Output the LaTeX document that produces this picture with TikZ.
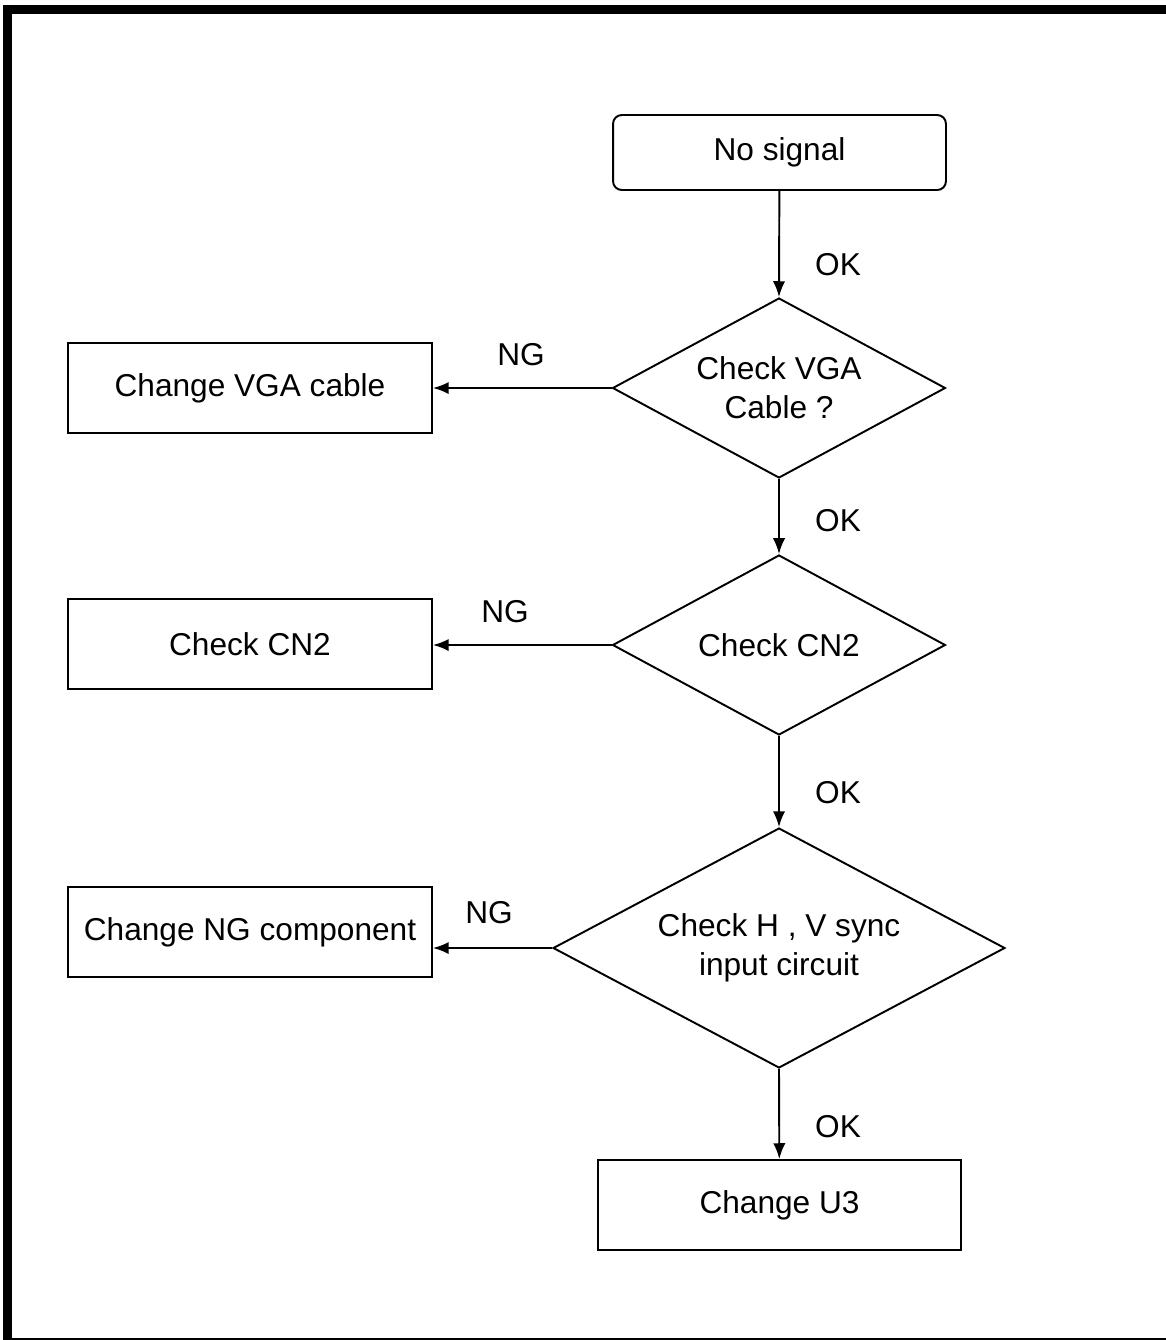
\documentclass[tikz,border=0pt]{standalone}
\usepackage{fontspec}
\setmainfont{Liberation Sans}
\usetikzlibrary{shapes.geometric,arrows.meta}

\begin{document}
\begin{tikzpicture}[x=0.02cm, y=-0.02cm,
  every node/.style={font=\fontsize{18}{22}\selectfont, align=center},
  stepbox/.style={draw, line width=1.1pt, minimum width=7.28cm, minimum height=1.8cm, inner sep=0pt},
  startbox/.style={draw, line width=1.1pt, rounded corners=5pt, minimum width=6.66cm, minimum height=1.5cm, inner sep=0pt},
  testbox/.style={draw, diamond, aspect=1.85, line width=1.1pt, inner sep=0pt},
  flow/.style={-{Latex[length=9pt,width=7pt]}, line width=1.1pt}]

\useasboundingbox (0,0) rectangle (1166,1340);

% === FRAME ===
\draw[line width=0.18cm] (7.5,9.5) rectangle (1180,1342);

% ============================================================
% MAIN COLUMN
% ============================================================
\node[startbox] (nosignal) at (779.5,152.5) {No signal};
\node[testbox, minimum width=6.66cm, minimum height=3.6cm] (chkvga) at (779,388) {Check VGA\\Cable ?};
\node[testbox, minimum width=6.66cm, minimum height=3.6cm] (chkcn2) at (779,645) {Check CN2};
\node[testbox, aspect=1.88, minimum width=9.04cm, minimum height=4.8cm] (chksync) at (779,948) {Check H , V sync\\input circuit};
\node[stepbox, minimum width=7.26cm] (chgu3) at (779.5,1205) {Change U3};

% ============================================================
% LEFT COLUMN
% ============================================================
\node[stepbox] (chgvga) at (250,388) {Change VGA cable};
\node[stepbox] (boxcn2) at (250,644) {Check CN2};
\node[stepbox] (chgng) at (250,932) {Change NG component};

% === CONNECTORS ===
\draw[flow] (nosignal) -- (chkvga.north);
\draw[flow] (chkvga.south) -- (chkcn2.north);
\draw[flow] (chkcn2.south) -- (chksync.north);
\draw[flow] (chksync.south) -- (chgu3);
\draw[flow] (chkvga.west) -- (chgvga.east);
\draw[flow] (chkcn2.west) -- (boxcn2.east |- chkcn2.west);
\draw[flow] (chksync.west) -- (chgng.east |- chksync.west);

% === LABELS ===
\node (ok1) at (838,265) {OK};
\node (ok2) at (838,521) {OK};
\node (ok3) at (838,793) {OK};
\node (ok4) at (838,1127) {OK};
\node (ng1) at (521,355) {NG};
\node (ng2) at (505,612) {NG};
\node (ng3) at (489,913) {NG};

\end{tikzpicture}
\end{document}
